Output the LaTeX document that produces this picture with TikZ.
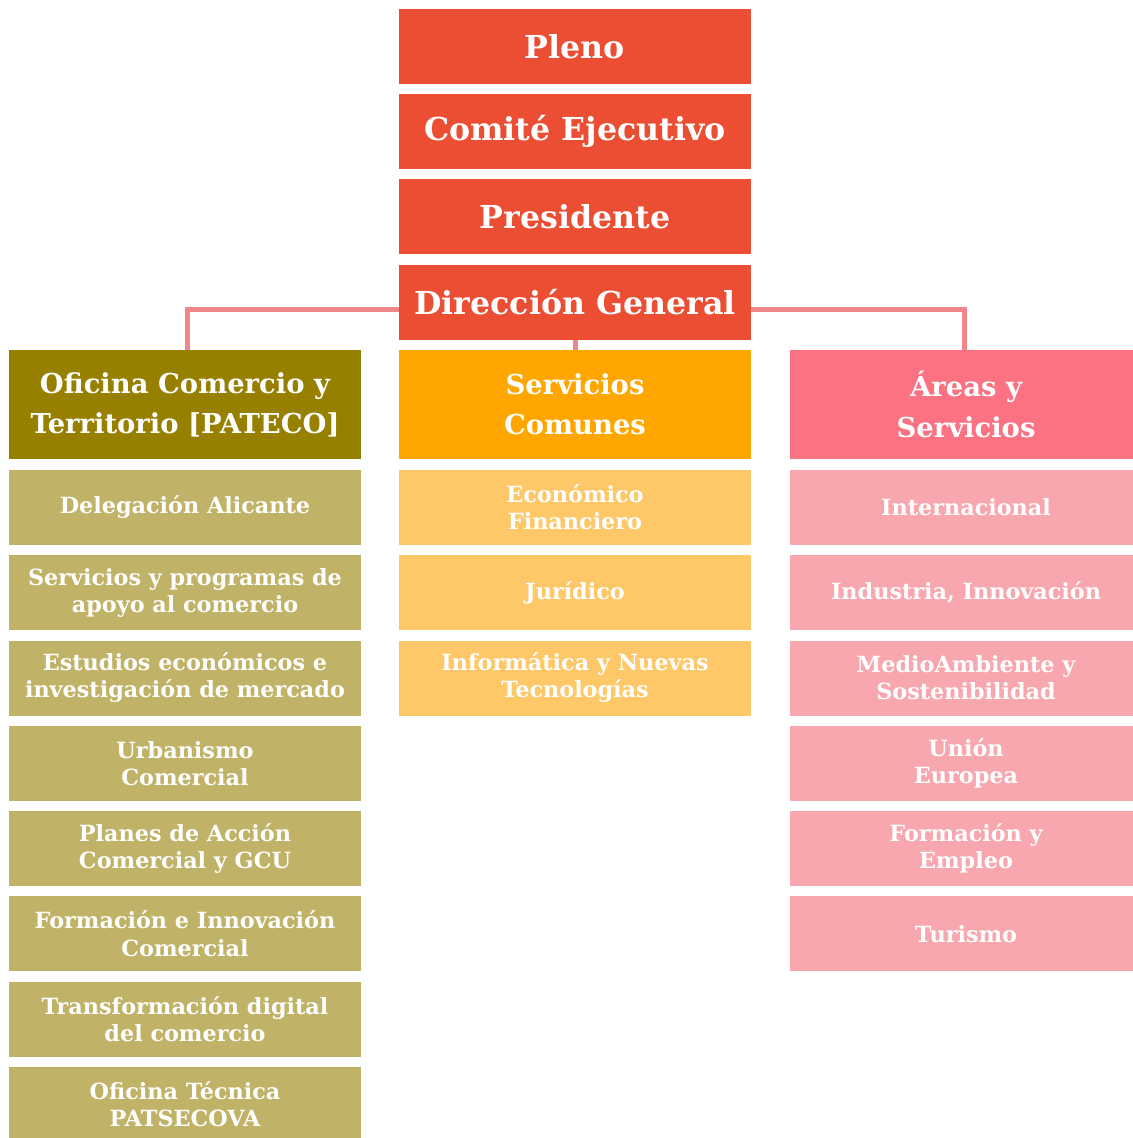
\documentclass[tikz,border=0pt]{standalone}
\usepackage{fontspec}
\setmainfont{DejaVu Serif}
\usetikzlibrary{positioning}
\definecolor{TopRed}{HTML}{EB4E33}
\definecolor{OliveDark}{HTML}{978000}
\definecolor{OliveLight}{HTML}{C0B266}
\definecolor{OrangeDark}{HTML}{FFA600}
\definecolor{OrangeLight}{HTML}{FEC868}
\definecolor{PinkDark}{HTML}{FB7282}
\definecolor{PinkLight}{HTML}{F9A7AE}
\definecolor{LinkPink}{HTML}{EE868A}
\tikzstyle{box}      = [rectangle, text=white, align=center, inner sep=0pt, outer sep=0pt]
\tikzstyle{top_box}  = [box, fill=TopRed, minimum width=7.04cm, minimum height=1.5cm, font=\bfseries\fontsize{18}{22}\selectfont]
\tikzstyle{head_box} = [box, minimum width=7.04cm, minimum height=2.18cm, font=\bfseries\fontsize{15.6}{22.8}\selectfont]
\tikzstyle{sub_box}  = [box, minimum width=7.04cm, minimum height=1.5cm, font=\bfseries\fontsize{12.7}{15.4}\selectfont]
\tikzstyle{OFI_COLOR}  = [fill=OliveDark]
\tikzstyle{SER_COLOR}  = [fill=OrangeDark]
\tikzstyle{ARE_COLOR}  = [fill=PinkDark]
\tikzstyle{OFI_SUB} = [sub_box, fill=OliveLight]
\tikzstyle{SER_SUB} = [sub_box, fill=OrangeLight]
\tikzstyle{ARE_SUB} = [sub_box, fill=PinkLight]
\tikzstyle{link} = [draw=LinkPink, line width=0.1cm]
\begin{document}
\begin{tikzpicture}[node distance = 0.205cm and 0cm]
  \useasboundingbox (0,0) rectangle (22.64,-22.76);

  % top chain
  \node[top_box] (PLENO) at (11.5,-0.93) {Pleno};
  \node[top_box, below=of PLENO] (COMITE) {Comité Ejecutivo};
  \node[top_box, below=of COMITE] (PRES) {Presidente};
  \node[top_box, below=of PRES] (DIR) {Dirección General};

  % column heads
  \node[head_box, OFI_COLOR, anchor=north] (OFI) at (3.7,-7.0) {Oficina Comercio y\\Territorio [PATECO]};
  \node[head_box, SER_COLOR, anchor=north] (SERV) at (11.5,-7.0) {Servicios\\Comunes};
  \node[head_box, ARE_COLOR, anchor=north] (AREAS) at (19.32,-7.0) {Áreas y\\Servicios};

  % connectors
  \draw[link] ([yshift=-0.15cm]DIR.west) -| ([xshift=0.04cm]OFI.north);
  \draw[link] ([yshift=-0.15cm]DIR.east) -| ([xshift=-0.04cm]AREAS.north);
  \draw[link] (DIR.south) -- (SERV.north);

  % Oficina column
  \node[OFI_SUB, below=0.22cm of OFI] (OFI_1) {Delegación Alicante};
  \node[OFI_SUB, below=of OFI_1] (OFI_2) {Servicios y programas de\\apoyo al comercio};
  \node[OFI_SUB, below=of OFI_2] (OFI_3) {Estudios económicos e\\investigación de mercado};
  \node[OFI_SUB, below=of OFI_3] (OFI_4) {Urbanismo\\Comercial};
  \node[OFI_SUB, below=of OFI_4] (OFI_5) {Planes de Acción\\Comercial y GCU};
  \node[OFI_SUB, below=of OFI_5] (OFI_6) {Formación e Innovación\\Comercial};
  \node[OFI_SUB, below=of OFI_6] (OFI_7) {Transformación digital\\del comercio};
  \node[OFI_SUB, below=of OFI_7] (OFI_8) {Oficina Técnica\\PATSECOVA};

  % Servicios column
  \node[SER_SUB, below=0.22cm of SERV] (SER_1) {Económico\\Financiero};
  \node[SER_SUB, below=of SER_1] (SER_2) {Jurídico};
  \node[SER_SUB, below=of SER_2] (SER_3) {Informática y Nuevas\\Tecnologías};

  % Areas column
  \node[ARE_SUB, below=0.22cm of AREAS] (ARE_1) {Internacional};
  \node[ARE_SUB, below=of ARE_1] (ARE_2) {Industria, Innovación};
  \node[ARE_SUB, below=of ARE_2] (ARE_3) {MedioAmbiente y\\Sostenibilidad};
  \node[ARE_SUB, below=of ARE_3] (ARE_4) {Unión\\Europea};
  \node[ARE_SUB, below=of ARE_4] (ARE_5) {Formación y\\Empleo};
  \node[ARE_SUB, below=of ARE_5] (ARE_6) {Turismo};
\end{tikzpicture}
\end{document}
